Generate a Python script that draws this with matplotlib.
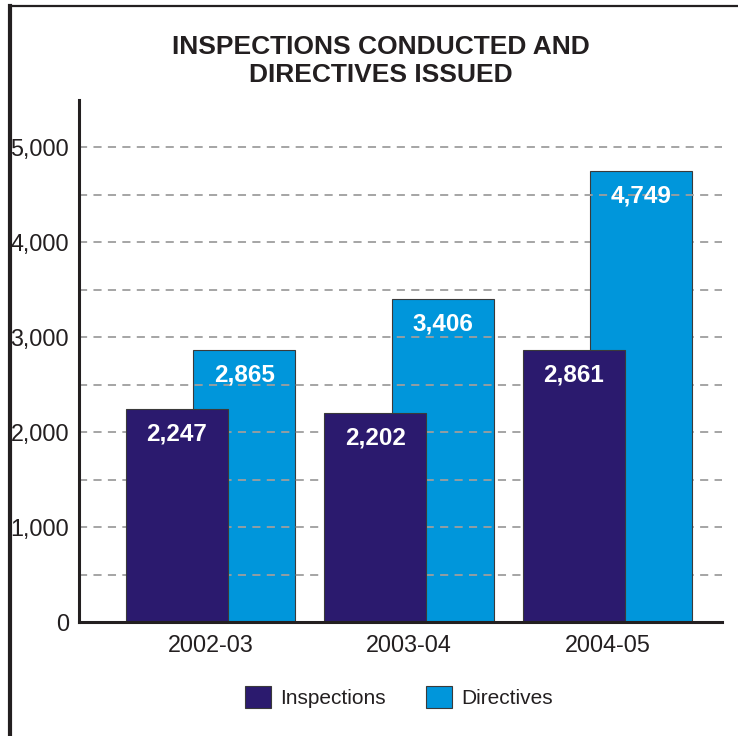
import matplotlib
matplotlib.use("Agg")
import matplotlib.pyplot as plt
from matplotlib.lines import Line2D
from matplotlib.patches import Patch
import numpy as np

plt.rcParams['font.family'] = ['Liberation Sans', 'DejaVu Sans']

categories = ["2002-03", "2003-04", "2004-05"]
inspections = [2247, 2202, 2861]
directives = [2865, 3406, 4749]
ytick_vals = [0, 1000, 2000, 3000, 4000, 5000]
ytick_labels = ["0", "1,000", "2,000", "3,000", "4,000", "5,000"]
grid_vals = [500, 1000, 1500, 2000, 2500, 3000, 3500, 4000, 4500, 5000]
title = "INSPECTIONS CONDUCTED AND\nDIRECTIVES ISSUED"
series_names = ["Inspections", "Directives"]

c_insp = "#2b1a6e"
c_dir = "#0096db"
edge = "#3a3a3a"
dark = "#231f20"

fig = plt.figure(figsize=(7.38, 7.36), dpi=100)
ax = fig.add_axes([79/738, 1-622/736, (722-79)/738, (622-100)/736])

x = np.arange(len(categories))
w = 0.515
off = 0.17

# directives bars (behind grid except last one, as in reference)
for i, v in enumerate(directives):
    z = 1 if i < 2 else 2
    ax.bar(x[i] + off, v, width=w, color=c_dir, edgecolor=edge, linewidth=0.8, zorder=z)
    ax.annotate(f"{v:,}", (x[i] + off, v), xytext=(0, -18), textcoords="offset points",
                ha="center", va="center", color="white", fontsize=17.5, fontweight="bold", zorder=5)

for gv in grid_vals:
    z = 2.5 if gv == 4500 else 1.5
    ax.axhline(gv, color="#9e9e9e", linewidth=1.3, dashes=(4.5, 3.5), zorder=z)

for i, v in enumerate(inspections):
    ax.bar(x[i] - off, v, width=w, color=c_insp, edgecolor=edge, linewidth=0.8, zorder=3)
    ax.annotate(f"{v:,}", (x[i] - off, v), xytext=(0, -18), textcoords="offset points",
                ha="center", va="center", color="white", fontsize=17.5, fontweight="bold", zorder=5)

ax.set_xlim(-0.662, 2.577)
ax.set_ylim(0, 5500)
ax.set_yticks(ytick_vals)
ax.set_yticklabels(ytick_labels)
ax.set_xticks(x)
ax.set_xticklabels(categories)
ax.tick_params(axis="both", length=0, labelsize=16.8, colors=dark)
ax.tick_params(axis="y", pad=7)
ax.tick_params(axis="x", pad=9)
for s in ["top", "right"]:
    ax.spines[s].set_visible(False)
for s in ["left", "bottom"]:
    ax.spines[s].set_linewidth(2.2)
    ax.spines[s].set_color(dark)
    ax.spines[s].set_zorder(6)

fig.text(381/738, 1-61/736, title, ha="center", va="center", fontsize=19,
         fontweight="bold", color=dark, linespacing=1.2)

handles = [Patch(facecolor=c_insp, edgecolor=edge, linewidth=0.8),
           Patch(facecolor=c_dir, edgecolor=edge, linewidth=0.8)]
fig.legend(handles, series_names, loc="center", bbox_to_anchor=(399/738, 1-697/736),
           ncol=2, frameon=False, fontsize=15, handlelength=1.25, handleheight=1.25,
           handletextpad=0.45, columnspacing=1.9, labelcolor=dark)

# figure frame lines (left and top)
fig.add_artist(Line2D([10/738, 10/738], [0, 1-6/736], transform=fig.transFigure,
                      color=dark, linewidth=3, zorder=10))
fig.add_artist(Line2D([10/738, 1], [1-6/736, 1-6/736], transform=fig.transFigure,
                      color=dark, linewidth=1.6, zorder=10))

fig.savefig("out.png", dpi=100)
